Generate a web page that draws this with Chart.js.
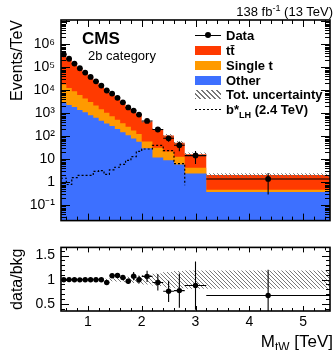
<!DOCTYPE html>
<html>
<head>
<meta charset="utf-8">
<script src="https://cdn.jsdelivr.net/npm/chart.js@4.4.0/dist/chart.umd.min.js"></script>
<style>
  body { margin: 0; background: #fff; }
  #wrap { position: relative; width: 334px; height: 350px; overflow: hidden;
          font-family: "Liberation Sans", Arial, sans-serif; color: #000; }
  canvas { position: absolute; left: 0; }
  #mainChart { top: 0; }
  #ratioChart { top: 233px; }
  .txt { position: absolute; white-space: nowrap; line-height: 1; }
  .row { position: absolute; left: 195px; height: 15px; display: flex; align-items: center; }
  .sw { position: relative; width: 26px; height: 9px; margin-right: 5px; flex: none; }
  .lab { font-weight: bold; font-size: 13px; }
  .sw-data::before { content: ""; position: absolute; left: 0; right: 0; top: 4px; height: 1px; background: #000; }
  .sw-data::after { content: ""; position: absolute; left: 10px; top: 1.5px; width: 6px; height: 6px; border-radius: 50%; background: #000; }
  .sw-hatch { background: repeating-linear-gradient(45deg, #777 0 1px, transparent 1px 3.5px); }
  .sw-sig::before { content: ""; position: absolute; left: 0; right: 0; top: 4px; height: 1px;
                    background: repeating-linear-gradient(90deg, #000 0 2px, transparent 2px 4px); }
  sub, sup { font-size: 70%; line-height: 0; }
</style>
</head>
<body>
<div id="wrap">
  <canvas id="mainChart" width="334" height="235"></canvas>
  <canvas id="ratioChart" width="334" height="117"></canvas>

  <div class="txt" style="right:1px; top:5px; font-size:13px;">138 fb<sup>-1</sup> (13 TeV)</div>
  <div class="txt" style="left:82px; top:30px; font-size:17px; font-weight:bold;">CMS</div>
  <div class="txt" style="left:88px; top:49px; font-size:13px;">2b category</div>

  <div class="row" style="top:27.5px"><span class="sw sw-data"></span><span class="lab">Data</span></div>
  <div class="row" style="top:42.5px"><span class="sw" id="swTT"></span><span class="lab">tt&#772;</span></div>
  <div class="row" style="top:57.5px"><span class="sw" id="swST"></span><span class="lab">Single t</span></div>
  <div class="row" style="top:72.5px"><span class="sw" id="swOther"></span><span class="lab">Other</span></div>
  <div class="row" style="top:87px"><span class="sw sw-hatch"></span><span class="lab">Tot. uncertainty</span></div>
  <div class="row" style="top:101.5px"><span class="sw sw-sig"></span><span class="lab">b*<sub>LH</sub> (2.4 TeV)</span></div>

  <div class="txt" style="right:1px; top:333px; font-size:17px;">M<sub>tW</sub> [TeV]</div>
</div>

<script>
// Bin edges of M_tW in TeV
const binEdges = [0.5, 0.6, 0.7, 0.8, 0.9, 1.0, 1.1, 1.2, 1.3, 1.4, 1.5, 1.6, 1.7, 1.8, 1.9, 2.0, 2.2, 2.4, 2.6, 2.8, 3.2, 5.5];

// Backgrounds, events / TeV
const ttbar     = [352000, 222000, 136000, 85000, 54600, 35000, 22300, 14500, 9350, 5900, 3800, 2500, 1600, 1050, 755, 375, 178, 86, 40, 12.2, 1.6];
const singleTop = [14900, 10200, 7100, 4900, 3300, 2280, 1560, 1020, 690, 470, 310, 220, 150, 100, 67, 30, 20, 13, 7, 1.9, 0.1];
const otherBkg  = [3100, 2300, 1900, 1400, 1100, 820, 640, 480, 360, 280, 210, 150, 110, 80, 58, 30, 12, 9, 6, 2.4, 0.38];

// Data, events / TeV, and relative stat. error
const dataYield  = [370000, 235000, 145000, 91000, 59000, 38000, 24500, 16000, 9800, 7200, 4700, 3000, 1800, 1320, 880, 465, 198, 82, 41, 14.5, 1.4];
const dataRelErr = [0.005, 0.006, 0.008, 0.01, 0.013, 0.016, 0.02, 0.025, 0.03, 0.035, 0.04, 0.05, 0.06, 0.08, 0.08, 0.11, 0.18, 0.29, 0.46, 0.57, 0.79];

// Relative total background uncertainty
const bkgRelUnc = [0.01, 0.01, 0.01, 0.01, 0.01, 0.01, 0.01, 0.015, 0.02, 0.03, 0.04, 0.05, 0.06, 0.07, 0.08, 0.1, 0.13, 0.16, 0.18, 0.19, 0.19];

// Signal b*_LH (2.4 TeV)
const signalBstar = [1.5, 0.8, 1.6, 2.0, 2.0, 2.0, 3.0, 3.2, 2.2, 3.5, 4.5, 6.0, 9.0, 13, 22, 28, 40, 24, 6.5, 0.75, 0];

// Tick labels
const yTicksMain  = [0.1, 1, 10, 100, 1e3, 1e4, 1e5, 1e6];
const yTicksRatio = [0.5, 1, 1.5];
const xTicks      = [1, 2, 3, 4, 5];

const colTT = '#ff3a00';
const colST = '#ff9a00';
const colOther = '#3d70ff';
document.getElementById('swTT').style.background = colTT;
document.getElementById('swST').style.background = colST;
document.getElementById('swOther').style.background = colOther;

const binCenters = binEdges.slice(0, -1).map((e, i) => (e + binEdges[i + 1]) / 2);
const stackSingle = otherBkg.map((v, i) => v + singleTop[i]);
const stackTotal = stackSingle.map((v, i) => v + ttbar[i]);
const ratio = dataYield.map((v, i) => v / stackTotal[i]);

function stepPoints(values) {
    const pts = values.map((v, i) => ({x: binEdges[i], y: v}));
    pts.push({x: binEdges[binEdges.length - 1], y: values[values.length - 1]});
    return pts;
}

function makeHatch(color) {
    const c = document.createElement('canvas');
    c.width = 4; c.height = 4;
    const g = c.getContext('2d');
    g.strokeStyle = color;
    g.lineWidth = 0.9;
    g.beginPath();
    g.moveTo(-1, -1); g.lineTo(5, 5);
    g.moveTo(-1, 3); g.lineTo(1, 5);
    g.moveTo(3, -1); g.lineTo(5, 1);
    g.stroke();
    return g.createPattern(c, 'repeat');
}
const hatch = makeHatch('#6a6a6a');

const SUP = {'-': '\u207b', '0': '\u2070', '1': '\u00b9', '2': '\u00b2', '3': '\u00b3', '4': '\u2074',
             '5': '\u2075', '6': '\u2076', '7': '\u2077', '8': '\u2078', '9': '\u2079'};
function powLabel(v) {
    const e = Math.round(Math.log10(v));
    if (e === 0) return '1';
    if (e === 1) return '10';
    return '10' + String(e).split('').map(ch => SUP[ch]).join('');
}

// error bars for data points (horizontal = bin width)
const errorBarPlugin = {
    id: 'errorBars',
    afterDatasetsDraw(chart, args, opts) {
        const {ctx, chartArea: a, scales: {x, y}} = chart;
        ctx.save();
        ctx.beginPath();
        ctx.rect(a.left, a.top, a.right - a.left, a.bottom - a.top);
        ctx.clip();
        ctx.strokeStyle = '#000';
        ctx.lineWidth = 1.1;
        ctx.beginPath();
        opts.values.forEach((v, i) => {
            const e = v * dataRelErr[i];
            const px = x.getPixelForValue(binCenters[i]);
            const py = y.getPixelForValue(v);
            ctx.moveTo(x.getPixelForValue(binEdges[i]), py);
            ctx.lineTo(x.getPixelForValue(binEdges[i + 1]), py);
            ctx.moveTo(px, y.getPixelForValue(v + e));
            ctx.lineTo(px, y.getPixelForValue(Math.max(v - e, 1e-4)));
        });
        ctx.stroke();
        ctx.restore();
    }
};

// ROOT style frame with inward ticks on all sides
const framePlugin = {
    id: 'rootFrame',
    afterDraw(chart, args, opts) {
        const {ctx, chartArea: a, scales: {x, y}} = chart;
        ctx.save();
        ctx.strokeStyle = '#000';
        ctx.lineWidth = 1;
        ctx.beginPath();
        opts.xTicks.forEach(t => {
            const px = Math.round(x.getPixelForValue(t.v)) + 0.5;
            ctx.moveTo(px, a.bottom); ctx.lineTo(px, a.bottom - t.len);
            ctx.moveTo(px, a.top); ctx.lineTo(px, a.top + t.len);
        });
        opts.yTicks.forEach(t => {
            const py = Math.round(y.getPixelForValue(t.v)) + 0.5;
            ctx.moveTo(a.left, py); ctx.lineTo(a.left + t.len, py);
            ctx.moveTo(a.right, py); ctx.lineTo(a.right - t.len, py);
        });
        ctx.stroke();
        ctx.lineWidth = 1.6;
        ctx.strokeRect(a.left, a.top, a.right - a.left, a.bottom - a.top);
        ctx.restore();
    }
};

function xTickList(major, minor) {
    const list = [];
    for (let v = 0.6; v < 5.45; v += 0.2) {
        const r = Math.round(v * 10) / 10;
        list.push({v: r, len: xTicks.includes(r) ? major : minor});
    }
    return list;
}
const logTicks = [];
for (let d = -2; d <= 7; d++) {
    for (let m = 1; m <= 9; m++) {
        const v = m * Math.pow(10, d);
        if (v > 0.0216 && v < 1.14e7) logTicks.push({v: v, len: m === 1 ? 9 : 5});
    }
}
const ratioTicks = [];
for (let v = 0.4; v < 1.65; v += 0.1) {
    const r = Math.round(v * 10) / 10;
    ratioTicks.push({v: r, len: yTicksRatio.includes(r) ? 8 : 4});
}

const tickFont = {family: '"Liberation Sans", Arial, sans-serif', size: 14};
const titleFont = {family: '"Liberation Sans", Arial, sans-serif', size: 16};

function fillSet(label, values, color) {
    return {label: label, data: stepPoints(values), stepped: true, borderWidth: 0,
            pointRadius: 0, fill: 'start', backgroundColor: color};
}

new Chart(document.getElementById('mainChart'), {
    type: 'line',
    data: {
        datasets: [
            {label: 'Data', data: binCenters.map((c, i) => ({x: c, y: dataYield[i]})), showLine: false,
             pointRadius: 2.9, pointBackgroundColor: '#000', pointBorderWidth: 0},
            {label: 'b*LH (2.4 TeV)', data: stepPoints(signalBstar), stepped: true, borderColor: '#000',
             borderWidth: 1.2, borderDash: [2, 2], pointRadius: 0, fill: false},
            {label: 'unc up', data: stepPoints(stackTotal.map((v, i) => v * (1 + bkgRelUnc[i]))), stepped: true,
             borderWidth: 0, pointRadius: 0, fill: '+1', backgroundColor: hatch},
            {label: 'unc down', data: stepPoints(stackTotal.map((v, i) => v * (1 - bkgRelUnc[i]))), stepped: true,
             borderWidth: 0, pointRadius: 0, fill: false},
            fillSet('Other', otherBkg, colOther),
            fillSet('Single t', stackSingle, colST),
            fillSet('tt', stackTotal, colTT)
        ]
    },
    options: {
        responsive: false,
        animation: false,
        layout: {padding: {top: 20, right: 1, bottom: 3, left: 0}},
        plugins: {
            legend: {display: false},
            tooltip: {enabled: false},
            errorBars: {values: dataYield},
            rootFrame: {xTicks: xTickList(7, 4), yTicks: logTicks}
        },
        scales: {
            x: {type: 'linear', min: 0.5, max: 5.5, display: false},
            y: {
                type: 'logarithmic', min: 0.0216, max: 1.14e7,
                afterFit: s => { s.width = 61; },
                afterBuildTicks: s => { s.ticks = yTicksMain.map(v => ({value: v})); },
                grid: {display: false, drawTicks: false},
                border: {display: false},
                ticks: {color: '#000', font: tickFont, padding: 6, autoSkip: false, callback: v => powLabel(v)},
                title: {display: true, text: 'Events/TeV', align: 'end', color: '#000', font: titleFont,
                        padding: {top: 8, bottom: 0}}
            }
        }
    },
    plugins: [errorBarPlugin, framePlugin]
});

new Chart(document.getElementById('ratioChart'), {
    type: 'line',
    data: {
        datasets: [
            {label: 'Data/bkg', data: binCenters.map((c, i) => ({x: c, y: ratio[i]})), showLine: false,
             pointRadius: 2.7, pointBackgroundColor: '#000', pointBorderWidth: 0},
            {label: 'unc up', data: stepPoints(bkgRelUnc.map(u => 1 + u)), stepped: true,
             borderWidth: 0, pointRadius: 0, fill: '+1', backgroundColor: hatch},
            {label: 'unc down', data: stepPoints(bkgRelUnc.map(u => 1 - u)), stepped: true,
             borderWidth: 0, pointRadius: 0, fill: false}
        ]
    },
    options: {
        responsive: false,
        animation: false,
        layout: {padding: {top: 2, right: 1, bottom: 0, left: 0}},
        plugins: {
            legend: {display: false},
            tooltip: {enabled: false},
            errorBars: {values: ratio},
            rootFrame: {xTicks: xTickList(5, 3), yTicks: ratioTicks}
        },
        scales: {
            x: {
                type: 'linear', min: 0.5, max: 5.5,
                afterFit: s => { s.height = 39; },
                afterBuildTicks: s => { s.ticks = xTicks.map(v => ({value: v})); },
                grid: {display: false, drawTicks: false},
                border: {display: false},
                ticks: {color: '#000', font: tickFont, padding: 3, autoSkip: false, maxRotation: 0,
                        callback: v => String(v)}
            },
            y: {
                type: 'linear', min: 0.35, max: 1.67,
                afterFit: s => { s.width = 61; },
                afterBuildTicks: s => { s.ticks = yTicksRatio.map(v => ({value: v})); },
                grid: {display: false, drawTicks: false},
                border: {display: false},
                ticks: {color: '#000', font: tickFont, padding: 6, autoSkip: false, callback: v => String(v)},
                title: {display: true, text: 'data/bkg', align: 'center', color: '#000', font: titleFont,
                        padding: {top: 8, bottom: 0}}
            }
        }
    },
    plugins: [errorBarPlugin, framePlugin]
});
</script>
</body>
</html>
